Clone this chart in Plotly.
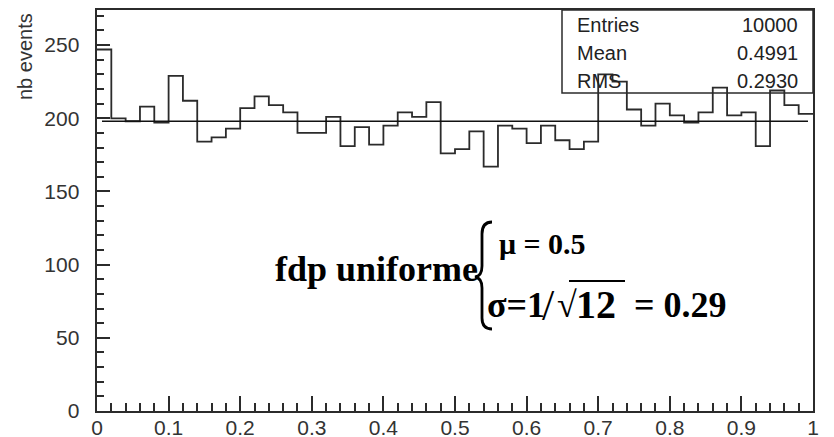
import numpy as np
import plotly.graph_objects as go

# Histogram of 10000 uniform draws on [0, 1), 50 bins
x_min, x_max, n_bins = 0.0, 1.0, 50
counts = [247, 200, 198, 208, 197, 229, 212, 184, 187, 193,
          207, 215, 209, 204, 190, 190, 201, 181, 194, 182,
          195, 204, 201, 211, 176, 179, 191, 167, 195, 193,
          183, 195, 185, 179, 184, 230, 225, 206, 195, 210,
          202, 197, 204, 221, 202, 204, 181, 219, 209, 203]

# Constant (p0) fit drawn across the histogram
fit_level = 198
fit_range = [0.007, 0.993]

# Statistics box
stat_names = ["Entries", "Mean", "RMS"]
stat_values = ["10000", "0.4991", "0.2930"]

y_max = 274
x_ticks = [0, 0.1, 0.2, 0.3, 0.4, 0.5, 0.6, 0.7, 0.8, 0.9, 1]
y_ticks = [0, 50, 100, 150, 200, 250]

W, H = 834, 437
ML, MR, MT, MB = 97, 21, 10, 26
PW, PH = W - ML - MR, H - MT - MB


def px(x):
    """Pixel column -> paper x."""
    return (x - ML) / PW


def py(y):
    """Pixel row -> paper y."""
    return (H - MB - y) / PH


edges = np.linspace(x_min, x_max, n_bins + 1)
step_x = list(edges)
step_y = list(counts) + [counts[-1]]

ink = "#2b2b2b"
sans = "Liberation Sans, Arial, sans-serif"
serif = "Liberation Serif, Times New Roman, serif"
nbsp = "\u00a0"

fig = go.Figure()
fig.add_trace(go.Scatter(x=step_x, y=step_y, mode="lines", line_shape="hv",
                         line=dict(color=ink, width=1.8), hoverinfo="skip"))
fig.add_trace(go.Scatter(x=fit_range, y=[fit_level, fit_level], mode="lines",
                         line=dict(color="#111", width=1.5), hoverinfo="skip"))

axis_common = dict(showline=True, linecolor=ink, linewidth=1.5, mirror=True,
                   showgrid=False, zeroline=False, ticks="inside",
                   tickcolor=ink, tickwidth=1.5, automargin=False,
                   tickfont=dict(family=sans, size=21, color="#333"))
fig.update_xaxes(range=[x_min, x_max], tickvals=x_ticks,
                 ticktext=[f"{v:g}" for v in x_ticks], ticklen=15,
                 ticklabelstandoff=-3,
                 minor=dict(ticks="inside", dtick=0.02, ticklen=8,
                            tickcolor=ink, tickwidth=1.5),
                 **axis_common)
fig.update_yaxes(range=[0, y_max], tickvals=y_ticks,
                 ticktext=[f"{v}{nbsp * 2}" for v in y_ticks], ticklen=13,
                 minor=dict(ticks="inside", dtick=10, ticklen=7,
                            tickcolor=ink, tickwidth=1.5),
                 **axis_common)

annotations = [
    dict(text="nb events", textangle=-90, x=px(25), y=py(57),
         xanchor="center", font=dict(family=sans, size=20, color="#333")),
    dict(text="<b>fdp uniforme</b>", x=px(480), y=py(269), xanchor="right",
         font=dict(family=serif, size=36, color="black")),
    dict(text="<b>μ = 0.5</b>", x=px(497), y=py(243), xanchor="left",
         font=dict(family=serif, size=30, color="black")),
    dict(text="<b>σ=1</b>", x=px(485), y=py(305), xanchor="left",
         font=dict(family=serif, size=36, color="black")),
    dict(text="/", x=px(540), y=py(305), xanchor="left",
         font=dict(family=serif, size=44, color="black")),
    dict(text="<b>√</b>", x=px(555), y=py(305), xanchor="left",
         font=dict(family=serif, size=36, color="black")),
    dict(text="<b>12</b>", x=px(574), y=py(304), xanchor="left",
         font=dict(family=serif, size=40, color="black")),
    dict(text="<b>= 0.29</b>", x=px(632), y=py(305), xanchor="left",
         font=dict(family=serif, size=36, color="black")),
]
for i, (name, val) in enumerate(zip(stat_names, stat_values)):
    yc = 25 + 28 * i
    annotations.append(dict(text=name, x=px(575), y=py(yc), xanchor="left",
                            font=dict(family=sans, size=20, color="#222")))
    annotations.append(dict(text=val, x=px(800), y=py(yc), xanchor="right",
                            font=dict(family=sans, size=20, color="#222")))
for a in annotations:
    a.update(xref="paper", yref="paper", yanchor="middle", showarrow=False)


def path_px(cmds):
    out = []
    for c in cmds:
        if isinstance(c, str):
            out.append(c)
        else:
            out.append(f"{px(c[0]):.5f},{py(c[1]):.5f}")
    return " ".join(out)


brace = path_px(["M", (492, 222), "Q", (482, 222), (482, 234), "L", (482, 266),
                 "Q", (482, 276), (475, 277), "Q", (482, 278), (482, 288),
                 "L", (482, 318), "Q", (482, 329), (492, 329)])

shapes = [
    dict(type="rect", xref="paper", yref="paper", x0=px(562), x1=px(813),
         y0=py(93), y1=py(10), line=dict(color=ink, width=1.5)),
    dict(type="path", xref="paper", yref="paper", path=brace,
         line=dict(color="black", width=2.8)),
    dict(type="line", xref="paper", yref="paper", x0=px(569), x1=px(625),
         y0=py(281), y1=py(281), line=dict(color="black", width=2)),
]

fig.update_layout(width=W, height=H, autosize=False,
                  margin=dict(l=ML, r=MR, t=MT, b=MB),
                  plot_bgcolor="white", paper_bgcolor="white",
                  showlegend=False, annotations=annotations, shapes=shapes)

fig.write_html("out.html")
